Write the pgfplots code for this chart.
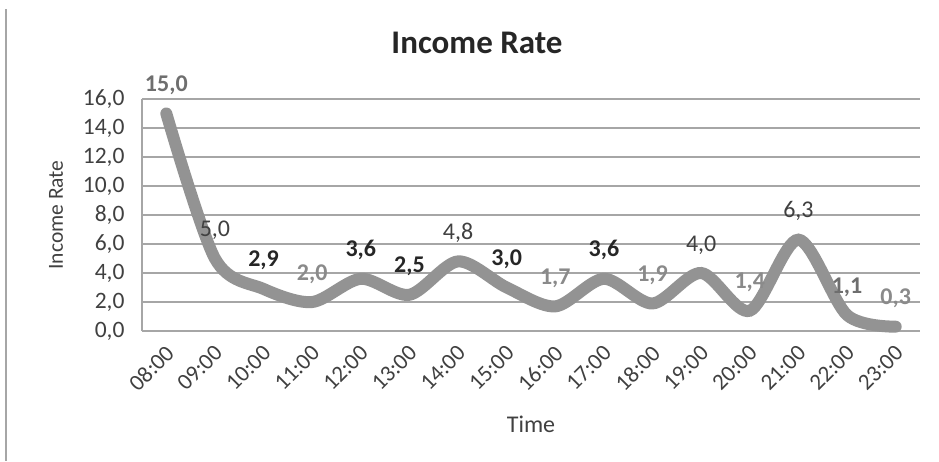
\documentclass[border=0pt]{standalone}
\usepackage{fontspec}
\setmainfont{Carlito}
\usepackage{pgfplots}
\usepackage{pgfplotstable}
\pgfplotsset{compat=1.18}
\definecolor{linegray}{HTML}{939393}
\definecolor{gridgray}{HTML}{A6A6A6}
\definecolor{txtdark}{HTML}{404040}
\definecolor{txtbold}{HTML}{262626}
\definecolor{txtgray}{HTML}{8A8A8A}
\definecolor{txtmid}{HTML}{6E6E6E}
\pgfplotstableread{
x y
0 15.0
1 5.0
2 2.9
3 2.0
4 3.6
5 2.5
6 4.8
7 3.0
8 1.7
9 3.6
10 1.9
11 4.0
12 1.4
13 6.3
14 1.1
15 0.3
}\datatable
\begin{document}
\begin{tikzpicture}[x=1pt,y=1pt]
\path[use as bounding box] (0,0) rectangle (939,-461);
\draw[color=gridgray, line width=2pt] (6,-9) -- (6,-461);
\begin{axis}[
  at={(142pt,-331pt)}, anchor=south west,
  scale only axis, width=778pt, height=232pt,
  xmin=-0.5, xmax=15.5, ymin=0, ymax=16,
  ytick={0,2,...,16},
  xtick={0,...,15},
  xticklabels={08:00,09:00,10:00,11:00,12:00,13:00,14:00,15:00,16:00,17:00,18:00,19:00,20:00,21:00,22:00,23:00},
  axis x line*=bottom, axis y line*=left,
  axis line style={gridgray, line width=1.2pt, -},
  ymajorgrids, grid style={gridgray, line width=1.2pt},
  major tick length=0pt,
  /pgf/number format/assume math mode=true,
  yticklabel={\pgfmathprintnumber[fixed,fixed zerofill,precision=1,use comma,assume math mode=true]{\tick}},
  yticklabel style={font=\fontsize{23.5}{23.5}\selectfont, text=txtdark, xshift=-14pt},
  xticklabel style={font=\fontsize{23}{23}\selectfont, text=txtdark, xshift=-2pt, yshift=-8pt, rotate=45, anchor=north east},
  title={Income Rate},
  title style={font=\bfseries\fontsize{33}{33}\selectfont, text=txtbold, at={(axis description cs:0.5,1)}, anchor=base, yshift=40pt, xshift=-54pt},
  xlabel={Time},
  xlabel style={font=\fontsize{24}{24}\selectfont, text=txtdark, at={(axis description cs:0.5,0)}, anchor=base, yshift=-101pt},
  ylabel={Income Rate},
  ylabel style={font=\fontsize{21.5}{21.5}\selectfont, text=txtdark, at={(axis description cs:-0.1105,0.5)}, anchor=center},
  nodes near coords={\pgfmathprintnumber[fixed,fixed zerofill,precision=1,use comma,assume math mode=true]{\pgfplotspointmeta}},
  every node near coord/.append style={anchor=base, yshift=22pt, font=\fontsize{24}{24}\selectfont},
  clip=false,
]
\addplot[smooth, linegray, line width=12pt, line cap=round, nodes near coords={}] table[x=x,y=y] {\datatable};
\addplot[draw=none, mark=none, every node near coord/.append style={text=txtmid, font=\bfseries\fontsize{24}{24}\selectfont}]
  coordinates {(0,15.0) (14,1.1)};
\addplot[draw=none, mark=none, every node near coord/.append style={text=txtgray, font=\bfseries\fontsize{24}{24}\selectfont}]
  coordinates {(3,2.0) (8,1.7) (10,1.9) (12,1.4) (15,0.3)};
\addplot[draw=none, mark=none, every node near coord/.append style={text=txtdark}]
  coordinates {(1,5.0) (6,4.8) (11,4.0) (13,6.3)};
\addplot[draw=none, mark=none, every node near coord/.append style={text=txtbold, font=\bfseries\fontsize{24}{24}\selectfont}]
  coordinates {(2,2.9) (4,3.6) (5,2.5) (7,3.0) (9,3.6)};
\end{axis}
\end{tikzpicture}
\end{document}
